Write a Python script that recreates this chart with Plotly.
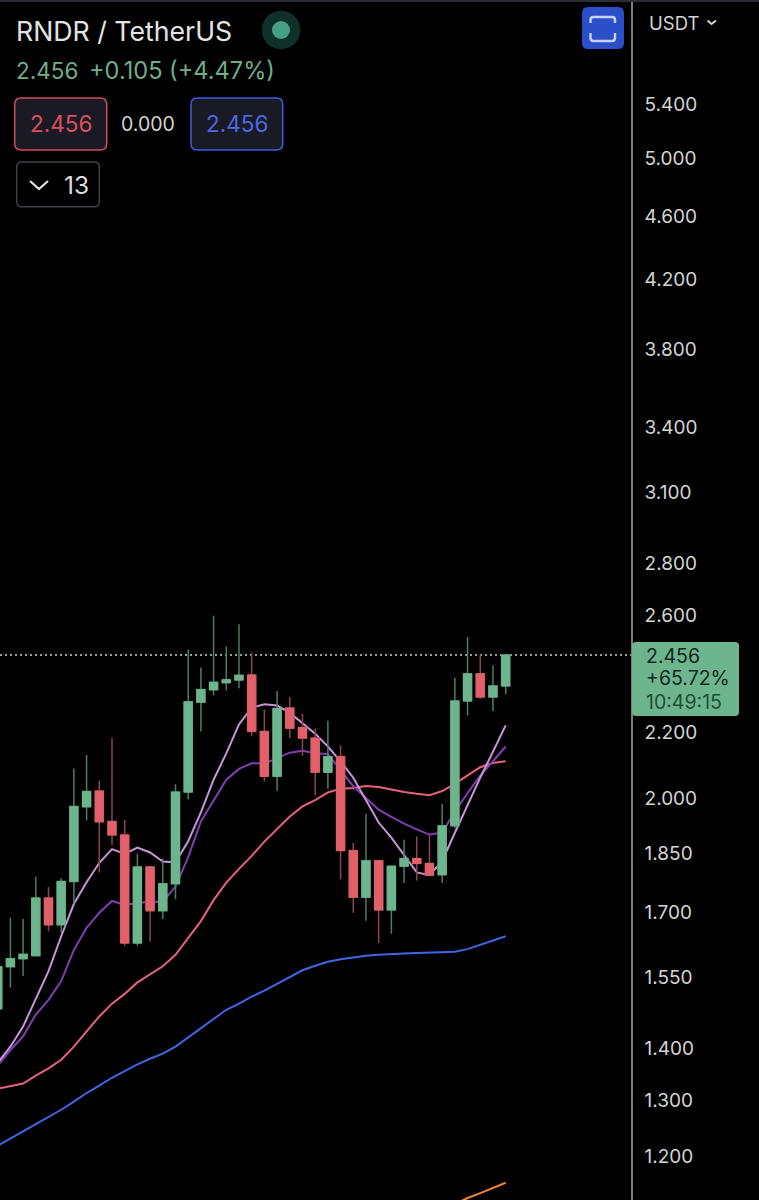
import plotly.graph_objects as go

# candles, oldest first
candle_open = [1.481, 1.573, 1.591, 1.598, 1.735, 1.670, 1.777, 1.977, 2.022, 1.936, 1.899,
               1.627, 1.814, 1.704, 1.771, 2.019, 2.296, 2.337, 2.361, 2.370, 2.387,
               2.202, 2.065, 2.277, 2.214, 2.181, 2.077, 2.124, 1.857, 1.737, 1.830,
               1.706, 1.816, 1.836, 1.823, 1.794, 1.924, 2.300, 2.391, 2.313, 2.350]
candle_high = [1.600, 1.687, 1.684, 1.789, 1.763, 1.785, 2.088, 2.129, 2.053, 2.182, 1.941,
               1.848, 1.817, 1.836, 2.042, 2.476, 2.413, 2.598, 2.486, 2.567, 2.465,
               2.271, 2.333, 2.313, 2.259, 2.211, 2.236, 2.159, 1.877, 1.957, 1.833,
               1.817, 1.886, 1.895, 1.900, 1.985, 2.378, 2.520, 2.457, 2.420, 2.460]
candle_low = [1.469, 1.527, 1.552, 1.597, 1.655, 1.652, 1.721, 1.939, 1.800, 1.872, 1.621,
              1.621, 1.630, 1.684, 1.732, 1.998, 2.202, 2.319, 2.335, 2.342, 2.187,
              2.050, 2.023, 2.181, 2.127, 2.010, 2.029, 1.782, 1.699, 1.680, 1.627,
              1.649, 1.773, 1.779, 1.790, 1.773, 1.917, 2.253, 2.307, 2.267, 2.323]
candle_close = [1.573, 1.591, 1.601, 1.735, 1.670, 1.777, 1.978, 2.021, 1.935, 1.899, 1.627,
                1.814, 1.704, 1.771, 2.019, 2.297, 2.338, 2.362, 2.371, 2.386, 2.202,
                2.065, 2.275, 2.212, 2.181, 2.077, 2.124, 1.857, 1.737, 1.830, 1.706,
                1.816, 1.836, 1.823, 1.793, 1.924, 2.300, 2.391, 2.313, 2.350, 2.456]

# moving averages
ma_lilac = [1.371, 1.403, 1.444, 1.502, 1.563, 1.643, 1.721, 1.775, 1.825, 1.861, 1.848,
            1.865, 1.852, 1.828, 1.826, 1.882, 1.961, 2.055, 2.134, 2.224, 2.278,
            2.289, 2.285, 2.262, 2.229, 2.195, 2.155, 2.110, 2.061, 1.996, 1.933,
            1.892, 1.846, 1.800, 1.793, 1.829, 1.905, 1.983, 2.061, 2.139, 2.221]
ma_purple = [1.366, 1.396, 1.424, 1.469, 1.500, 1.541, 1.611, 1.663, 1.699, 1.728, 1.718,
             1.723, 1.726, 1.726, 1.764, 1.840, 1.936, 1.996, 2.055, 2.087, 2.104,
             2.103, 2.120, 2.136, 2.142, 2.134, 2.132, 2.085, 2.036, 2.002, 1.969,
             1.949, 1.930, 1.914, 1.900, 1.905, 1.964, 2.016, 2.067, 2.110, 2.155]
ma_pink = [1.321, 1.326, 1.331, 1.346, 1.360, 1.377, 1.403, 1.434, 1.465, 1.492, 1.513,
           1.538, 1.555, 1.574, 1.600, 1.639, 1.679, 1.730, 1.774, 1.809, 1.843,
           1.881, 1.914, 1.950, 1.978, 1.996, 2.018, 2.029, 2.031, 2.037, 2.034,
           2.026, 2.019, 2.014, 2.010, 2.022, 2.043, 2.068, 2.092, 2.105, 2.110]
ma_blue = [1.218, 1.230, 1.243, 1.256, 1.269, 1.282, 1.297, 1.313, 1.327, 1.342, 1.355,
           1.368, 1.379, 1.389, 1.403, 1.422, 1.440, 1.461, 1.479, 1.492, 1.507,
           1.520, 1.535, 1.551, 1.565, 1.575, 1.584, 1.590, 1.594, 1.598, 1.600,
           1.602, 1.603, 1.604, 1.605, 1.606, 1.607, 1.613, 1.623, 1.633, 1.643]
ma_orange = [1.120, 1.130, 1.138, 1.146, 1.155]

price_ticks = [5.4, 5.0, 4.6, 4.2, 3.8, 3.4, 3.1, 2.8, 2.6, 2.2, 2.0, 1.85, 1.7, 1.55, 1.4, 1.3, 1.2]
last_price = 2.456

GREEN = "#6db58d"
RED = "#e2606a"
GREEN_WICK = "#4d7d63"
RED_WICK = "#87474d"
FONT = "Inter"

W, H = 759, 1200
PANE_RIGHT = 631


def px(x):
    return x / W


def py(y):
    return 1 - y / H


def rounded_rect(x0, y0, x1, y1, r):
    # svg path in paper coordinates, input in screen pixels
    pts = [
        f"M {px(x0 + r)} {py(y0)}", f"L {px(x1 - r)} {py(y0)}",
        f"Q {px(x1)} {py(y0)} {px(x1)} {py(y0 + r)}", f"L {px(x1)} {py(y1 - r)}",
        f"Q {px(x1)} {py(y1)} {px(x1 - r)} {py(y1)}", f"L {px(x0 + r)} {py(y1)}",
        f"Q {px(x0)} {py(y1)} {px(x0)} {py(y1 - r)}", f"L {px(x0)} {py(y0 + r)}",
        f"Q {px(x0)} {py(y0)} {px(x0 + r)} {py(y0)}", "Z",
    ]
    return " ".join(pts)


def polyline(points):
    return "M " + " L ".join(f"{px(x)} {py(y)}" for x, y in points)


def bracket(x0, x1, y_end, y_bar, r):
    # one half of the fullscreen icon, rounded at both corners
    step = r if y_bar > y_end else -r
    return (f"M {px(x0)} {py(y_end)} L {px(x0)} {py(y_bar - step)} "
            f"Q {px(x0)} {py(y_bar)} {px(x0 + r)} {py(y_bar)} L {px(x1 - r)} {py(y_bar)} "
            f"Q {px(x1)} {py(y_bar)} {px(x1)} {py(y_bar - step)} L {px(x1)} {py(y_end)}")


def add_box(fig, x0, y0, x1, y1, r, fill, border, width=1.5):
    fig.add_shape(type="path", path=rounded_rect(x0, y0, x1, y1, r), xref="paper", yref="paper",
                  fillcolor=fill, line=dict(color=border, width=width))


def add_stroke(fig, points, color, width):
    fig.add_shape(type="path", path=polyline(points), xref="paper", yref="paper",
                  line=dict(color=color, width=width))


def add_text(fig, x, y, text, size, color, anchor="left"):
    fig.add_annotation(x=px(x), y=py(y), xref="paper", yref="paper", text=text, showarrow=False,
                       xanchor=anchor, yanchor="middle", borderpad=0,
                       font=dict(family=FONT, size=size, color=color))


index = list(range(len(candle_open)))
x_range = [0.181, 49.87]
y_range = [0.05185, 0.79699]

fig = go.Figure()

# moving averages go on the base axes so that the candles sit on top of them
fig.add_trace(go.Scatter(x=[x_range[0], x_range[1]], y=[last_price, last_price], mode="lines",
                         line=dict(color="#bcd8c6", width=1.6, dash="2px,3px")))
fig.add_trace(go.Scatter(x=index, y=ma_blue, mode="lines", line=dict(color="#3f66e6", width=2)))
fig.add_trace(go.Scatter(x=index[-len(ma_orange):], y=ma_orange, mode="lines",
                         line=dict(color="#f0833a", width=2)))
fig.add_trace(go.Scatter(x=index, y=ma_pink, mode="lines", line=dict(color="#e8607f", width=2)))
fig.add_trace(go.Scatter(x=index, y=ma_purple, mode="lines", line=dict(color="#7f3fb0", width=2)))
fig.add_trace(go.Scatter(x=index, y=ma_lilac, mode="lines", line=dict(color="#c795d8", width=2)))

# dim wicks first, bright bodies over them
fig.add_trace(go.Candlestick(
    x=index, open=candle_open, high=candle_high, low=candle_low, close=candle_close,
    xaxis="x2", yaxis="y2", whiskerwidth=0,
    increasing=dict(line=dict(color=GREEN_WICK, width=1.5), fillcolor=GREEN_WICK),
    decreasing=dict(line=dict(color=RED_WICK, width=1.5), fillcolor=RED_WICK),
))
body_top = [max(o, c) for o, c in zip(candle_open, candle_close)]
body_bottom = [min(o, c) for o, c in zip(candle_open, candle_close)]
fig.add_trace(go.Candlestick(
    x=index, open=candle_open, high=body_top, low=body_bottom, close=candle_close,
    xaxis="x2", yaxis="y2", whiskerwidth=0,
    increasing=dict(line=dict(color=GREEN, width=1), fillcolor=GREEN),
    decreasing=dict(line=dict(color=RED, width=1), fillcolor=RED),
))

fig.update_layout(
    width=W, height=H,
    margin=dict(l=0, r=0, t=0, b=0),
    paper_bgcolor="#000000", plot_bgcolor="#000000",
    showlegend=False, hovermode=False, boxgap=0.08,
    font=dict(family=FONT, color="#d9d9d9"),
    xaxis=dict(domain=[0, px(PANE_RIGHT)], range=x_range, visible=False, fixedrange=True),
    yaxis=dict(type="log", range=y_range, side="right", showgrid=False, zeroline=False,
               showline=True, linecolor="#7c7c7c", linewidth=1.5,
               tickmode="array", tickvals=price_ticks, tickformat=".3f",
               ticks="outside", ticklen=8, tickcolor="rgba(0,0,0,0)",
               tickfont=dict(family=FONT, size=19, color="#d4d4d4")),
    xaxis2=dict(domain=[0, px(PANE_RIGHT)], range=x_range, visible=False, overlaying="x",
                rangeslider=dict(visible=False), fixedrange=True),
    yaxis2=dict(type="log", range=y_range, visible=False, overlaying="y", anchor="x2"),
)

# top strip
fig.add_shape(type="rect", xref="paper", yref="paper", x0=0, x1=1, y0=py(2), y1=1,
              fillcolor="#2b2e35", line=dict(width=0))

# header
add_text(fig, 15, 31, "RNDR / TetherUS", 26.7, "#e4e4e4")
fig.add_shape(type="circle", xref="paper", yref="paper", x0=px(261.7), x1=px(300.3), y0=py(49.3), y1=py(10.7),
              fillcolor="#10302a", line=dict(width=0))
fig.add_shape(type="circle", xref="paper", yref="paper", x0=px(272), x1=px(290), y0=py(39), y1=py(21),
              fillcolor="#46a085", line=dict(width=0))
add_text(fig, 14.5, 70, "2.456", 22.5, "#6fae8b")
add_text(fig, 88, 70, "+0.105 (+4.47%)", 23.6, "#6fae8b")

add_box(fig, 14.7, 98, 106.7, 150, 6.5, "#191a24", "#cf4f5a")
add_text(fig, 60.7, 124, "2.456", 22.5, "#dc4f5d", anchor="center")
add_text(fig, 148, 124, "0.000", 19.5, "#d4d4d4", anchor="center")
add_box(fig, 191, 98, 282.7, 150, 6.5, "#191a24", "#3f5fe0")
add_text(fig, 237, 124, "2.456", 22.5, "#4a69e6", anchor="center")

add_box(fig, 16.7, 162, 99.3, 206.7, 5, "#000000", "#3f4046")
add_stroke(fig, [(30, 181), (39, 189), (48, 181)], "#e0e0e0", 2.2)
add_text(fig, 76.5, 184.5, "13", 24.5, "#dedede", anchor="center")

# fullscreen button and currency selector
add_box(fig, 582, 7, 624, 49, 6, "#2a4fc8", "#2a4fc8", 0)
fig.add_shape(type="path", path=bracket(590.5, 615, 23, 17, 3), xref="paper", yref="paper",
              line=dict(color="#c8d0f2", width=2.4))
fig.add_shape(type="path", path=bracket(590.5, 615, 33, 41, 3), xref="paper", yref="paper",
              line=dict(color="#c8d0f2", width=2.4))
add_text(fig, 648, 23, "USDT", 18.5, "#d4d4d4")
add_stroke(fig, [(707.5, 20.5), (711.5, 24), (716, 20.5)], "#d4d4d4", 2)

# last price tag
add_box(fig, 632, 642, 739, 716, 4, GREEN, GREEN, 0)
add_text(fig, 644.5, 655.5, "2.456", 19.5, "#10281b")
add_text(fig, 644.5, 678, "+65.72%", 19.5, "#10281b")
add_text(fig, 644.5, 702, "10:49:15", 19.5, "#1f4f35")

fig.write_html("out.html", config=dict(displayModeBar=False),
               post_script="document.body.style.margin='0';")
